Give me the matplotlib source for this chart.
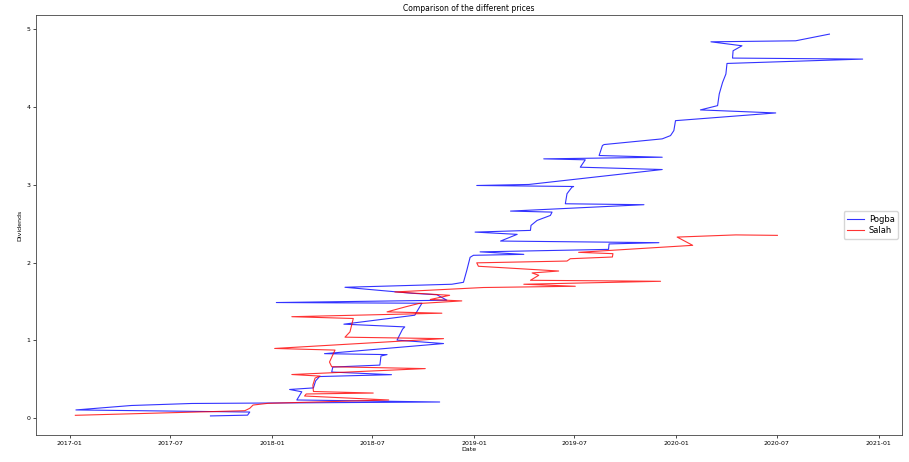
import matplotlib
matplotlib.use("Agg")
from matplotlib import pyplot as plt
import matplotlib.dates as mdates
import pandas as pd

# Pogba dividends (dates as they come out of the unsorted file)
pogba_dates = ["2017-09-12", "2017-11-18", "2017-11-22", "2017-01-12", "2017-04-22", "2017-08-09",
               "2018-10-31", "2018-02-15", "2018-02-24", "2018-02-02", "2018-03-17", "2018-03-21",
               "2018-03-28", "2018-08-05", "2018-04-19", "2018-04-21", "2018-07-15", "2018-07-17",
               "2018-07-28", "2018-04-06", "2018-11-07", "2018-08-15", "2018-08-25", "2018-08-29",
               "2018-05-11", "2018-09-16", "2018-09-29", "2018-01-09", "2018-11-13", "2018-10-26",
               "2018-09-11", "2018-05-13", "2018-11-22", "2018-12-13", "2018-12-19", "2018-12-25",
               "2018-12-31", "2019-04-01", "2019-01-12", "2019-09-01", "2019-09-02", "2019-12-01",
               "2019-02-18", "2019-03-20", "2019-01-03", "2019-04-13", "2019-04-14", "2019-04-25",
               "2019-05-19", "2019-05-22", "2019-03-08", "2019-11-04", "2019-06-15", "2019-06-18",
               "2019-06-27", "2019-06-30", "2019-01-06", "2019-04-10", "2019-12-07", "2019-07-12",
               "2019-07-21", "2019-05-07", "2019-12-07", "2019-08-15", "2019-08-21", "2019-08-24",
               "2019-12-07", "2019-12-22", "2019-12-28", "2019-12-31", "2020-06-29", "2020-02-14",
               "2020-03-16", "2020-03-19", "2020-03-25", "2020-03-31", "2020-04-02", "2020-12-03",
               "2020-04-12", "2020-04-13", "2020-04-29", "2020-03-04", "2020-08-04", "2020-10-04"]
pogba_values = [0.03, 0.04, 0.08, 0.107, 0.164, 0.19,
                0.209, 0.235, 0.34, 0.37, 0.39, 0.48,
                0.536, 0.56, 0.594, 0.658, 0.683, 0.80,
                0.818, 0.83, 0.96, 1.004, 1.145, 1.174,
                1.209, 1.324, 1.478, 1.487, 1.517, 1.587,
                1.606, 1.683, 1.722, 1.747, 1.90, 2.068,
                2.094, 2.106, 2.138, 2.17, 2.24, 2.256,
                2.277, 2.363, 2.392, 2.414, 2.478, 2.542,
                2.606, 2.649, 2.662, 2.744, 2.756, 2.885,
                2.97, 2.978, 2.991, 3.004, 3.196, 3.226,
                3.321, 3.333, 3.354, 3.376, 3.504, 3.517,
                3.59, 3.632, 3.696, 3.824, 3.923, 3.962,
                4.017, 4.167, 4.315, 4.423, 4.559, 4.615,
                4.628, 4.722, 4.786, 4.837, 4.85, 4.936]

# Salah dividends
salah_dates = ["2017-01-11", "2017-11-13", "2017-11-22", "2017-11-28", "2017-12-25", "2018-07-31",
               "2018-03-01", "2018-03-04", "2018-07-03", "2018-03-17", "2018-03-16", "2018-03-20",
               "2018-03-29", "2018-02-06", "2018-10-05", "2018-04-19", "2018-04-15", "2018-04-25",
               "2018-01-06", "2018-11-07", "2018-05-13", "2018-05-22", "2018-05-28", "2018-02-06",
               "2018-11-04", "2018-07-28", "2018-08-30", "2018-09-23", "2018-12-10", "2018-10-14",
               "2018-11-18", "2018-08-11", "2019-01-18", "2019-07-03", "2019-04-01", "2019-12-04",
               "2019-04-13", "2019-04-28", "2019-04-16", "2019-06-03", "2019-01-09", "2019-01-06",
               "2019-06-18", "2019-06-24", "2019-09-08", "2019-09-09", "2019-07-09", "2020-01-31",
               "2020-01-03", "2020-04-18", "2020-07-02"]
salah_values = [0.038, 0.097, 0.128, 0.17, 0.192, 0.235,
                0.286, 0.312, 0.324, 0.344, 0.427, 0.517,
                0.542, 0.562, 0.638, 0.662, 0.722, 0.876,
                0.897, 1.023, 1.042, 1.11, 1.282, 1.305,
                1.35, 1.367, 1.431, 1.474, 1.508, 1.526,
                1.58, 1.623, 1.68, 1.696, 1.722, 1.76,
                1.773, 1.837, 1.867, 1.892, 1.953, 1.997,
                2.02, 2.05, 2.072, 2.115, 2.132, 2.222,
                2.328, 2.356, 2.35]

pogba = pd.DataFrame({"Date": pd.to_datetime(pogba_dates), "Dividends": pogba_values})
salah = pd.DataFrame({"Date": pd.to_datetime(salah_dates), "Dividends": salah_values})

fig = plt.figure(figsize=(9.09, 4.62), dpi=100)
ax = fig.add_axes([0.0396, 0.0584, 0.9527, 0.9091])

ax.plot(pogba["Date"], pogba["Dividends"], color="blue", linewidth=0.8, alpha=0.8, label="Pogba")
ax.plot(salah["Date"], salah["Dividends"], color="red", linewidth=0.8, alpha=0.8, label="Salah")

ax.xaxis.set_major_locator(mdates.MonthLocator(bymonth=[1, 7]))
ax.xaxis.set_major_formatter(mdates.DateFormatter("%Y-%m"))
ax.tick_params(labelsize=4.5, length=2, width=0.5, pad=2)
for s in ax.spines.values():
    s.set_linewidth(0.6)
    s.set_color("#444444")

ax.set_title("Comparison of the different prices", fontsize=5.5, pad=3)
ax.set_xlabel("Date", fontsize=4.5, labelpad=1)
ax.set_ylabel("Dividends", fontsize=4.5, labelpad=3)
ax.legend(loc="center right", fontsize=6, handlelength=2, borderpad=0.4, labelspacing=0.3,
          handletextpad=0.6)

plt.savefig("out.png", dpi=100)
plt.close()
